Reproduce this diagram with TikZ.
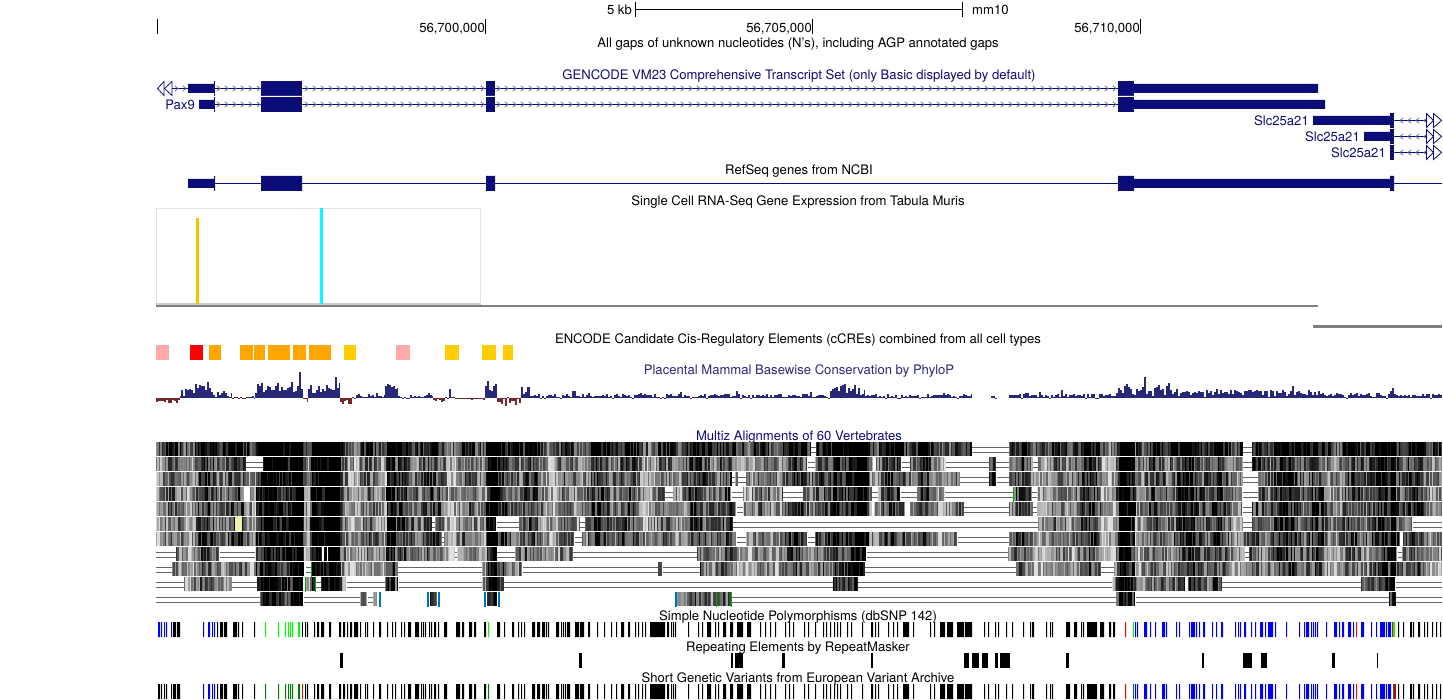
\documentclass[tikz,border=0pt]{standalone}
\usepackage{fontspec}
\setmainfont{TeX Gyre Heros}
\usetikzlibrary{positioning}

\definecolor{genenavy}{RGB}{12,12,120}
\definecolor{phylopos}{RGB}{40,40,120}
\definecolor{phyloneg}{RGB}{120,40,40}
\definecolor{mafgray}{RGB}{102,102,102}
\definecolor{mafblue}{RGB}{0,112,192}
\definecolor{mafgreen}{RGB}{0,170,0}
\definecolor{mafpale}{RGB}{240,240,176}
\definecolor{ccrepink}{RGB}{255,170,170}
\definecolor{ccreorange}{RGB}{255,167,0}
\definecolor{ccreyellow}{RGB}{255,205,0}
\definecolor{snpgreen}{RGB}{0,255,0}
\definecolor{evagreen}{RGB}{0,128,0}
\definecolor{amberbar}{RGB}{255,191,0}
\definecolor{cyanbar}{RGB}{0,255,255}

\tikzset{
  tracktitle/.style={font=\fontsize{13.1}{13}\selectfont,text=black,inner sep=0pt,anchor=center},
  genetitle/.style={tracktitle,text=genenavy},
  genename/.style={tracktitle,text=genenavy,anchor=east},
  poslabel/.style={tracktitle,anchor=east},
  intron/.style={genenavy,line width=1pt},
  chevron/.style={genenavy!70,line width=0.7pt},
  arrowhead/.style={genenavy,line width=0.8pt,fill=white},
  declare function={
    dkzone(\p)=and(\p>255,\p<303)+and(\p>310,\p<340)+and(\p>385,\p<395)+and(\p>485,\p<497)
      +and(\p>832,\p<868)+and(\p>1118,\p<1135)+and(\p>1390,\p<1396)+0.2*(\p>1135);
    ltzone(\p)=and(\p>303,\p<310)+and(\p>1100,\p<1116);
  }
}

% one block of alignment stripes: top, from, to, base level
\newcommand{\mafblock}[4]{%
  \pgfmathtruncatemacro\ncol{(#3-#2-1)/1.5}
  \foreach \i in {0,...,\ncol}{
    \pgfmathtruncatemacro\col{#2+1.5*\i}
    \pgfmathtruncatemacro\colend{min(#3,#2+1.5*(\i+1))}
    \pgfmathtruncatemacro\lvl{min(100,max(12,#4+50*dkzone(\col)-30*ltzone(\col)+60*(rnd-.5)+14*sin(\col*11)+12*sin(\col*3.7)))}
    \fill[black!\lvl] (\col,#1) rectangle (\colend,#1+14);
  }
}
% one row: top, base level, blocks, double lines
\newcommand{\mafrow}[4]{%
  \draw[mafgray,line width=1pt] foreach \xa/\xb in {#4}{(\xa,#1+5.5) -- (\xb,#1+5.5) (\xa,#1+10.5) -- (\xb,#1+10.5)};
  \foreach \xa/\xb in {#3}{\mafblock{#1}{\xa}{\xb}{#2}}
}
% conservation bars: from, to, mean height
\newcommand{\phyloseg}[3]{%
  \pgfmathtruncatemacro\ncol{(#2-#1-1)/2}
  \foreach \i in {0,...,\ncol}{
    \pgfmathtruncatemacro\col{#1+2*\i}
    \pgfmathtruncatemacro\colend{min(#2,\col+2)}
    \pgfmathsetmacro\barh{#3*(.4+1.2*rnd)+3*(rnd-.5)+(rnd>.95)*(abs(#3)+3)*rnd}
    \ifdim\barh pt>0pt
      \fill[phylopos] (\col,398) rectangle (\colend,398-\barh);
    \else
      \fill[phyloneg] (\col,398) rectangle (\colend,398-\barh);
    \fi
  }
}
\newcommand{\tickrow}[3]{%
  \fill[#2] foreach \xa/\wd in #3{(\xa,#1) rectangle (\xa+\wd,#1+15)};
}
% small arrows on an intron: y, from, to, direction
\newcommand{\chevrons}[4]{%
  \pgfmathtruncatemacro\nxt{#2+8}
  \draw[chevron] foreach \c in {#2,\nxt,...,#3}{(\c-#4*3,#1-2.5) -- (\c,#1) -- (\c-#4*3,#1+2.5)};
}

\def\snplead{158/2,161/1,164/1,166/1,171/1}
\def\snpblack{173/3,177/3,217/1,220/3,224/3,233/4,238/1,242/1,254/1,305/1,307/1,314/1,317/2,321/3,329/2,339/2,343/2,347/1,350/2,354/4,360/1,365/1,367/1,373/1,379/2,387/1,392/1,395/1,401/1,404/1,408/3,415/4,421/1,423/1,425/1,429/1,431/1,434/2,438/1,444/3,456/4,462/2,469/3,474/2,484/2,497/3,504/1,512/2,518/1,521/1,524/1,532/3,537/3,542/3,546/1,548/1,556/3,561/1,563/1,565/1,567/3,575/4,580/4,588/2,597/1,604/1,611/1,616/1,621/3,628/2,635/1,638/1,642/1,645/1,650/15,667/2,671/1,673/1,675/1,688/1,698/1,702/1,707/4,715/1,718/1,723/3,730/3,737/6,747/4,760/1,765/1,770/1,775/1,785/1,789/1,793/1,804/1,808/1,815/1,823/1,826/1,830/1,834/1,837/1,840/1,847/1,851/1,862/1,871/2,875/1,878/1,888/1,893/1,897/1,903/6,913/1,930/1,934/1,940/5,947/6,957/7,965/7,984/1,988/1,995/1,998/1,1006/1,1012/1,1023/1,1030/1,1032/2,1046/1,1050/1,1052/1,1066/4,1074/3,1081/1,1083/1,1087/10,1100/4,1109/2,1113/2,1398/1,1403/1,1410/2,1413/1,1418/2,1424/1,1427/1,1432/1,1436/1,1440/1}
\def\snpblue{203/1,208/2,212/1,214/1,1135/1,1137/1,1144/3,1150/1,1155/1,1162/3,1166/1,1176/1,1179/1,1189/1,1191/4,1196/1,1199/1,1203/2,1212/1,1216/1,1221/2,1235/1,1238/1,1240/1,1244/2,1251/1,1255/1,1260/3,1265/1,1268/5,1275/1,1286/1,1299/1,1304/1,1306/3,1311/1,1313/1,1315/1,1317/1,1326/1,1334/3,1339/1,1342/2,1348/3,1353/1,1361/3,1371/1,1376/1,1380/5,1386/1,1388/3}
\def\snplime{265/1,278/1,285/1,288/1,290/1,292/1,298/2,488/1,1133/1}
\def\snpred{1125/1,1356/1}

\begin{document}
\begin{tikzpicture}[x=1pt,y=-1pt]
\useasboundingbox (0,0) rectangle (1443,700);
\pgfmathsetseed{4217}

\node[tracktitle,anchor=east] (scale) at (632,10) {5 kb};
\node[tracktitle,anchor=west] (assembly) at (972,10) {mm10};
\draw[black,line width=1pt] (635.5,2) -- (635.5,17) (962.5,2) -- (962.5,17) (635.5,9.5) -- (962.5,9.5);
\draw[black,line width=1pt] (157.5,19) -- (157.5,34) (485.5,19) -- (485.5,34) (812.5,19) -- (812.5,34) (1140.5,19) -- (1140.5,34);
\node[poslabel] (posa) at (485,29) {56,700,000};
\node[poslabel] (posb) at (812,29) {56,705,000};
\node[poslabel] (posc) at (1140,29) {56,710,000};

\node[tracktitle] (gaps) at (798,44) {All gaps of unknown nucleotides (N's), including AGP annotated gaps};
\node[genetitle] (gencode) at (799,76) {GENCODE VM23 Comprehensive Transcript Set (only Basic displayed by default)};
\node[tracktitle] (refseq) at (799,171) {RefSeq genes from NCBI};
\node[tracktitle] (tabula) at (798,202) {Single Cell RNA-Seq Gene Expression from Tabula Muris};
\node[tracktitle] (encode) at (798,340) {ENCODE Candidate Cis-Regulatory Elements (cCREs) combined from all cell types};
\node[tracktitle,text=phylopos] (phylop) at (799,371) {Placental Mammal Basewise Conservation by PhyloP};
\node[genetitle] (multiz) at (799,437) {Multiz Alignments of 60 Vertebrates};
\node[tracktitle] (dbsnp) at (798,617) {Simple Nucleotide Polymorphisms (dbSNP 142)};
\node[tracktitle] (repeats) at (798,648) {Repeating Elements by RepeatMasker};
\node[tracktitle] (eva) at (798,679) {Short Genetic Variants from European Variant Archive};

\draw[intron] (172,88.5) -- (1118,88.5);
\draw[intron] (214,104.5) -- (1118,104.5);
\chevrons{88.5}{178}{186}{1}
\foreach \yy in {88.5,104.5}{
  \chevrons{\yy}{220}{1116}{1}
  \fill[genenavy] (261,\yy-7.5) rectangle (302,\yy+7.5);
  \fill[genenavy] (486,\yy-7.5) rectangle (495,\yy+7.5);
  \fill[genenavy] (1118,\yy-7.5) rectangle (1134,\yy+7.5);
  \fill[genenavy] (214,\yy-7.5) rectangle (215,\yy+7.5);
}
\fill[white] (261,96) rectangle (302,97) (486,96) rectangle (495,97) (1118,96) rectangle (1134,97);
\fill[genenavy] (188,84) rectangle (214,93) (199,100) rectangle (214,109);
\fill[genenavy] (1134,84) rectangle (1318,93) (1134,100) rectangle (1325,109);
\draw[arrowhead] (164,81.5) -- (157.5,88.5) -- (164,95.5) -- cycle;
\draw[arrowhead] (172,81.5) -- (164.5,88.5) -- (172,95.5) -- cycle;
\node[genename] (pax) at (195,104.5) {Pax9};

\foreach \yy in {120.5,136.5,152.5}{
  \draw[intron] (1394,\yy) -- (1427,\yy);
  \chevrons{\yy}{1400}{1424}{-1}
  \fill[genenavy] (1390,\yy-7.5) rectangle (1394,\yy+7.5);
  \draw[arrowhead] (1426.5,\yy-7) -- (1433.5,\yy) -- (1426.5,\yy+7) -- cycle;
  \draw[arrowhead] (1433.5,\yy-7) -- (1441.5,\yy) -- (1433.5,\yy+7) -- cycle;
}
\fill[genenavy] (1313,116) rectangle (1390,125) (1364,132) rectangle (1390,141);
\node[genename] (slca) at (1309,120.5) {Slc25a21};
\node[genename] (slcb) at (1360,136.5) {Slc25a21};
\node[genename] (slcc) at (1386,152.5) {Slc25a21};

\draw[intron] (214,183.5) -- (1442,183.5);
\fill[genenavy] (188,179) rectangle (214,188) (214,176) rectangle (215,191);
\fill[genenavy] (261,176) rectangle (302,191) (486,176) rectangle (495,191) (1118,176) rectangle (1134,191);
\fill[genenavy] (1134,179) rectangle (1390,188) (1390,176) rectangle (1394,191);

\draw[black!10,line width=1pt] (156.5,208.5) rectangle (480.5,304);
\fill[black!20] (156,303) rectangle (481,305);
\fill[amberbar] (196,218) rectangle (199,304);
\fill[cyanbar] (320,208) rectangle (323,304);
\fill[black!50] (156,305) rectangle (1318,307);
\fill[black!50] (1313,325.5) rectangle (1442,328);

\foreach \xa/\xb/\tone in {156/169/ccrepink,190/203/red,209/221/ccreorange,240/253/ccreorange,254/265/ccreorange,268/290/ccreorange,293/306/ccreorange,309/331/ccreorange,344/356/ccreyellow,396/410/ccrepink,445/459/ccreyellow,482/496/ccreyellow,503/513/ccreyellow}{
  \fill[\tone] (\xa,345) rectangle (\xb,360);
}

\foreach \xa/\xb/\hh in {156/181/-3,181/195/6,195/213/10,213/232/4,232/255/0.5,255/303/10,303/308/-2,308/335/8,335/340/14,340/352/-5,352/385/2,385/398/10,398/433/1.5,433/445/-2.5,445/449/0.5,449/451/9,451/485/-0.5,485/497/10,497/521/-5,521/530/7,530/640/2,640/830/2.4,830/865/9,865/972/2.2,989/997/1,1009/1116/2.4,1116/1180/8,1180/1250/5,1250/1320/5,1320/1390/3.5,1390/1396/9,1396/1442/2.4}{
  \phyloseg{\xa}{\xb}{\hh}
}

\mafrow{442}{85}{156/811,816/972,1009/1243,1252/1442}{811/816,972/1009,1243/1252}
\mafrow{457}{60}{156/246,263/808,815/874,876/902,910/946,989/996,1009/1033,1038/1243,1252/1442}{246/263,808/815,902/910,946/989,996/1009,1033/1038,1243/1252}
\mafrow{472}{60}{156/732,735/738,746/960,989/997,1009/1243,1258/1442}{732/735,738/746,960/989,997/1009,1243/1258}
\mafrow{487}{60}{156/245,250/665,673/732,743/783,803/872,878/901,917/945,1013/1032,1037/1243,1258/1442}{665/673,732/743,783/803,872/878,901/917,945/1013,1032/1037,1243/1258}
\mafrow{502}{60}{156/737,743/872,874/905,910/964,1009/1033,1037/1243,1252/1442}{737/743,964/1009,1033/1037,1243/1252}
\mafrow{517}{58}{156/432,435/497,519/580,585/733,1038/1243,1252/1413}{432/435,497/519,580/585,733/1038,1243/1252,1413/1442}
\mafrow{532}{62}{156/442,444/575,582/737,746/808,815/958,1009/1400,1403/1442}{442/444,575/582,737/746,808/815,958/1009}
\mafrow{547}{52}{176/220,255/323,324/327,328/455,457/497,515/573,697/867,1008/1245,1249/1398,1402/1442}{156/176,220/255,455/457,497/515,573/697,867/1008,1245/1249,1398/1402}
\mafrow{562}{50}{172/304,311/398,482/523,658/663,700/865,1016/1101,1114/1442}{156/172,306/311,398/482,523/658,663/700,865/1016,1101/1114}
\mafrow{577}{52}{184/232,257/304,306/316,321/347,385/399,482/504,833/858,1112/1185,1188/1222,1361/1396}{156/184,232/257,316/321,347/385,399/482,504/833,858/1112,1222/1361,1396/1442}
\mafrow{592}{50}{260/303,360/368,373/378,430/437,487/497,677/731,1116/1136,1389/1396}{156/260,304/360,368/373,731/1116,1136/1389,1396/1442}
\fill[mafpale] (235,517) rectangle (242,531);
\foreach \xa in {379,427,438,484,498,675}{\fill[mafblue] (\xa,592) rectangle (\xa+2,607);}
\foreach \xa/\yy in {311/562,305/577,315/577,716/592,731/592,1013/487}{\fill[mafgreen] (\xa,\yy) rectangle (\xa+1,\yy+15);}

\tickrow{622}{blue}{\snplead}
\tickrow{622}{black}{\snpblack}
\fill[black] (302,622) rectangle (303,637);
\tickrow{622}{blue}{\snpblue}
\tickrow{622}{snpgreen}{\snplime}
\tickrow{622}{red}{\snpred}
\fill[red] (1392,622) rectangle (1393,637);
\fill[snpgreen] (1393,622) rectangle (1395,637);

\foreach \xa/\xb in {340/343,579/582,731/733,735/743,782/785,871/873,964/969,972/979,982/988,995/998,1000/1010,1066/1069,1202/1204,1243/1252,1261/1267,1332/1335,1377/1378}{
  \fill[black] (\xa,653) rectangle (\xb,668);
}

\tickrow{684}{black}{\snplead}
\tickrow{684}{black}{\snpblack}
\tickrow{684}{blue}{\snpblue}
\tickrow{684}{evagreen}{\snplime}
\tickrow{684}{red}{\snpred}
\fill[red] (302,684) rectangle (303,699);
\fill[evagreen] (1393,684) rectangle (1394,699);
\fill[red!80!black] (1394,684) rectangle (1396,699);

\end{tikzpicture}
\end{document}
